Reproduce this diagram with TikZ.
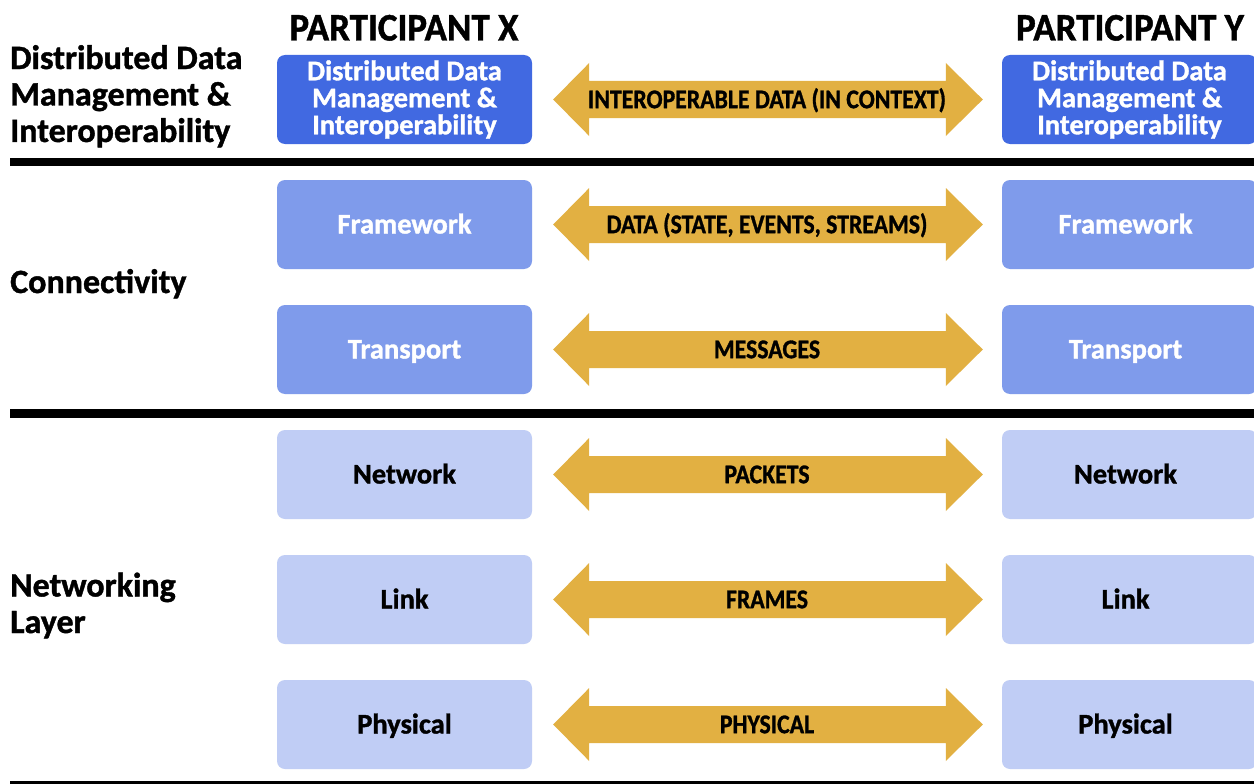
\documentclass[tikz,border=0pt]{standalone}
\usepackage{fontspec}
\setmainfont{Carlito}[BoldFeatures={FakeBold=1.2}]
\usetikzlibrary{calc}
\definecolor{dkblue}{RGB}{65,105,225}
\definecolor{mdblue}{RGB}{127,155,235}
\definecolor{ltblue}{RGB}{192,205,245}
\definecolor{goldc}{RGB}{226,176,66}
\newcommand\dblarrow[3]{%
  \fill[goldc] let \p1=($(#1.east)+(21pt,0pt)$), \p2=($(#2.west)+(-19pt,0pt)$) in
    (\p1) -- (\x1+36pt,\y1+36.5pt) -- (\x1+36pt,\y1+18.5pt) -- (\x2-37pt,\y1+18.5pt)
    -- (\x2-37pt,\y1+36.5pt) -- (\x2,\y1) -- (\x2-37pt,\y1-36.5pt) -- (\x2-37pt,\y1-18.5pt)
    -- (\x1+36pt,\y1-18.5pt) -- (\x1+36pt,\y1-36.5pt) -- cycle;
  \node[alabel] (lab#1) at ($(#1.east)!0.5!(#2.west)$) {\scalebox{0.88}[1]{#3}};}
\begin{document}
\begin{tikzpicture}[x=1pt,y=-1pt,
  box/.style={rounded corners=8pt, minimum width=255pt, minimum height=89pt, inner sep=0pt,
    font=\fontsize{28.5}{27}\selectfont\bfseries, align=center, text height=18pt, text depth=0pt},
  topbox/.style={box, fill=dkblue, text=white, text height=, text depth=},
  midbox/.style={box, fill=mdblue, text=white},
  lowbox/.style={box, fill=ltblue, text=black},
  alabel/.style={inner sep=0pt, font=\fontsize{27}{27}\selectfont\bfseries, text height=17.4pt, text depth=0pt},
  head/.style={inner sep=0pt, font=\fontsize{39}{39}\selectfont\bfseries, text height=25pt, text depth=0pt},
  side/.style={inner sep=0pt, anchor=base west, align=left, font=\fontsize{34}{36.5}\selectfont\bfseries},
  sep/.style={line width=8.5pt}
]
\useasboundingbox (0,0) rectangle (1254,784);
\fill[white] (0,0) rectangle (1254,784);

% headers
\node[head] (hx) at (404,28) {\scalebox{0.95}[1]{PARTICIPANT X}};
\node[head] (hy) at (1130,28) {\scalebox{0.95}[1]{PARTICIPANT Y}};

% side labels (base anchor = last line)
\node[side] (s1) at (10,142) {Distributed Data\\Management \&\\Interoperability};
\node[side] (s2) at (10,293) {Connectivity};
\node[side] (s3) at (10,633) {Networking\\Layer};

% left column
\node[topbox] (x1) at (404.5,99.5) {Distributed Data\\Management \&\\Interoperability};
\node[midbox] (x2) at (404.5,224.5) {Framework};
\node[midbox] (x3) at (404.5,349.5) {Transport};
\node[lowbox] (x4) at (404.5,474.5) {Network};
\node[lowbox] (x5) at (404.5,599.5) {Link};
\node[lowbox] (x6) at (404.5,724.5) {Physical};

% right column
\node[topbox] (y1) at (1129.5,99.5) {Distributed Data\\Management \&\\Interoperability};
\node[midbox] (y2) at (1129.5,224.5) {\hspace*{-8pt}Framework};
\node[midbox] (y3) at (1129.5,349.5) {\hspace*{-8pt}Transport};
\node[lowbox] (y4) at (1129.5,474.5) {\hspace*{-8pt}Network};
\node[lowbox] (y5) at (1129.5,599.5) {\hspace*{-8pt}Link};
\node[lowbox] (y6) at (1129.5,724.5) {\hspace*{-8pt}Physical};

% arrows
\dblarrow{x1}{y1}{INTEROPERABLE DATA (IN CONTEXT)}
\dblarrow{x2}{y2}{DATA (STATE, EVENTS, STREAMS)}
\dblarrow{x3}{y3}{MESSAGES}
\dblarrow{x4}{y4}{PACKETS}
\dblarrow{x5}{y5}{FRAMES}
\dblarrow{x6}{y6}{PHYSICAL}

% separators
\draw[sep] (10,162) -- (1254,162);
\draw[sep] (10,413.5) -- (1254,413.5);
\draw[line width=3pt] (10,782.5) -- (1254,782.5);
\end{tikzpicture}
\end{document}
